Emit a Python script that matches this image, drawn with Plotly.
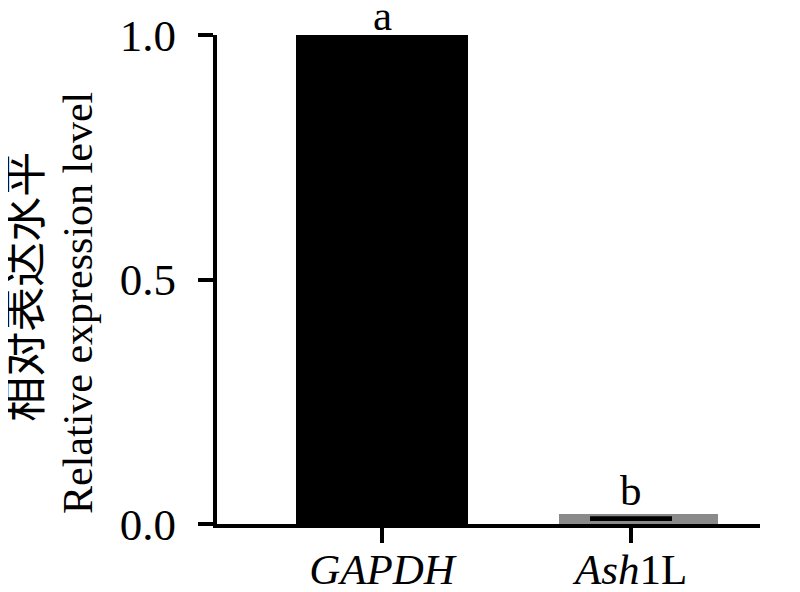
import plotly.graph_objects as go

categories = ["<i>GAPDH</i>", "<i>Ash</i>1L"]
values = [1.0, 0.02]
ash_mean_line = 0.011
ash_err = 0.002
letters = ["a", "b"]
y_ticks = [0.0, 0.5, 1.0]
y_ticktext = ["0.0", "0.5", "1.0"]

xpos = list(range(len(categories)))
serif = "Liberation Serif, Times New Roman, serif"

fig = go.Figure()
fig.add_trace(go.Bar(
    x=xpos, y=values,
    width=[0.69, 0.64], offset=[-0.345, -0.29],
    marker=dict(color=["#000000", "#8a8a8a"], line=dict(width=0)),
    showlegend=False,
))
fig.add_trace(go.Scatter(
    x=[xpos[1]], y=[ash_mean_line], mode="markers",
    marker=dict(size=1, color="rgba(0,0,0,0)"),
    error_y=dict(type="data", array=[ash_err], visible=True,
                 color="#000000", thickness=3, width=41),
    showlegend=False, cliponaxis=False,
))

for i, (v, t) in enumerate(zip(values, letters)):
    fig.add_annotation(x=xpos[i], y=v, xref="x", yref="y", text=t,
                       showarrow=False, yanchor="bottom",
                       yshift=-6 if i == 0 else -2,
                       font=dict(family=serif, size=43, color="#000"))

fig.add_annotation(text="相对表达水平", xref="paper", yref="paper",
                   x=0, y=0.485, xshift=-195, textangle=-90, showarrow=False,
                   xanchor="center", yanchor="middle",
                   font=dict(family="Noto Sans CJK SC", size=45, color="#000"))
fig.add_annotation(text="Relative expression level", xref="paper", yref="paper",
                   x=0, y=0.452, xshift=-139, textangle=-90, showarrow=False,
                   xanchor="center", yanchor="middle",
                   font=dict(family=serif, size=42, color="#000"))

fig.update_layout(
    width=800, height=592,
    margin=dict(l=209, r=48, t=27, b=76, autoexpand=False),
    plot_bgcolor="white", paper_bgcolor="white",
    bargap=0,
    xaxis=dict(range=[-0.663, 1.518], tickvals=xpos, ticktext=categories,
               automargin=False,
               showgrid=False, zeroline=False, showline=True,
               linecolor="#000", linewidth=4, ticks="outside", ticklen=15,
               tickwidth=4, tickcolor="#000", ticklabelstandoff=-11,
               tickfont=dict(family=serif, size=43, color="#000")),
    yaxis=dict(range=[0, 1], tickvals=y_ticks, ticktext=y_ticktext,
               automargin=False,
               showgrid=False, zeroline=False, showline=True,
               linecolor="#000", linewidth=4, ticks="outside", ticklen=15,
               tickwidth=4, tickcolor="#000", ticklabelstandoff=13,
               tickfont=dict(family=serif, size=45, color="#000")),
)

fig.write_html("out.html")
